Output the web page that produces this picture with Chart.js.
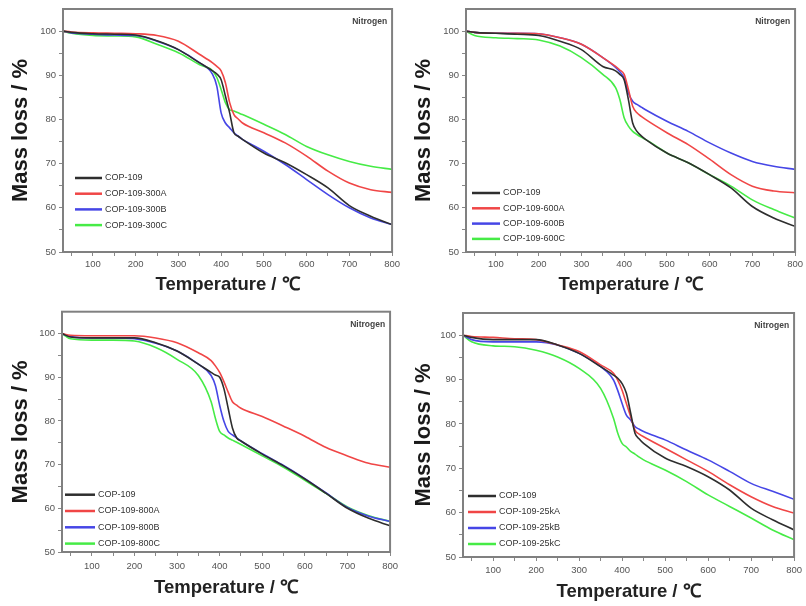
<!DOCTYPE html>
<html>
<head>
<meta charset="utf-8">
<script src="https://cdn.jsdelivr.net/npm/chart.js@4.4.0/dist/chart.umd.min.js"></script>
<style>
  html, body { margin: 0; padding: 0; background: #fff; }
  #wrap { position: relative; width: 806px; height: 606px; overflow: hidden; }
  canvas { position: absolute; }
</style>
</head>
<body>
<div id="wrap">
  <canvas id="c1" width="403" height="303" style="left:0;top:0"></canvas>
  <canvas id="c2" width="403" height="303" style="left:403px;top:0"></canvas>
  <canvas id="c3" width="403" height="303" style="left:0;top:303px"></canvas>
  <canvas id="c4" width="403" height="303" style="left:403px;top:303px"></canvas>
</div>
<script>
// ---------- DATA ----------
const temperatures = [30, 50, 100, 150, 200, 250, 300, 350, 380, 390, 400, 410, 420, 430, 440, 450, 500, 550, 600, 650, 700, 750, 800];

const xMajorTicks = [100, 200, 300, 400, 500, 600, 700, 800];
const xMinorTicks = [50, 150, 250, 350, 450, 550, 650, 750];
const yMajorTicks = [50, 60, 70, 80, 90, 100];
const yMinorTicks = [55, 65, 75, 85, 95];

const seriesNames300 = ['COP-109', 'COP-109-300A', 'COP-109-300B', 'COP-109-300C'];
const seriesNames600 = ['COP-109', 'COP-109-600A', 'COP-109-600B', 'COP-109-600C'];
const seriesNames800 = ['COP-109', 'COP-109-800A', 'COP-109-800B', 'COP-109-800C'];
const seriesNames25k = ['COP-109', 'COP-109-25kA', 'COP-109-25kB', 'COP-109-25kC'];

// Panel 1 (300)
const p1_cop109 = [100, 99.7, 99.4, 99.3, 99.1, 97.8, 95.8, 92.8, 91.0, 90.3, 89.0, 85.3, 81.5, 77.0, 76.2, 75.5, 72.4, 70.2, 67.5, 64.5, 60.5, 58.1, 56.2];
const p1_300A   = [100, 99.8, 99.6, 99.5, 99.4, 99.0, 97.7, 94.7, 92.8, 92.0, 91.0, 88.3, 83.8, 81.1, 80.1, 79.2, 77.0, 74.7, 71.7, 68.3, 65.6, 64.1, 63.5];
const p1_300B   = [100, 99.6, 99.3, 99.1, 99.0, 97.7, 95.8, 92.8, 90.2, 87.5, 81.5, 79.2, 78.1, 77.0, 76.2, 75.5, 72.8, 69.8, 66.4, 63.0, 60.0, 57.7, 56.2];
const p1_300C   = [100, 99.5, 99.0, 98.9, 98.7, 97.0, 95.1, 92.4, 91.0, 89.5, 86.8, 83.8, 82.2, 81.9, 81.5, 81.1, 78.9, 76.6, 73.9, 72.0, 70.5, 69.4, 68.7];

// Panel 2 (600)
const p2_cop109 = [100, 99.7, 99.5, 99.3, 99.0, 97.7, 95.8, 92.0, 91.0, 90.2, 89.0, 84.5, 79.2, 77.3, 76.3, 75.5, 72.4, 70.2, 67.5, 64.5, 60.3, 57.7, 55.8];
const p2_600A   = [100, 99.7, 99.5, 99.5, 99.4, 98.5, 97.0, 94.0, 92.0, 91.2, 90.2, 86.8, 83.0, 81.5, 80.7, 80.0, 77.0, 74.3, 71.0, 67.5, 64.9, 63.8, 63.4];
const p2_600B   = [100, 99.7, 99.5, 99.5, 99.4, 98.5, 97.0, 94.0, 91.8, 90.8, 89.4, 86.0, 84.1, 83.4, 82.8, 82.2, 79.6, 77.3, 74.7, 72.4, 70.5, 69.4, 68.7];
const p2_600C   = [100, 99.0, 98.5, 98.3, 98.0, 96.6, 94.0, 90.2, 87.2, 84.5, 80.4, 78.5, 77.3, 76.6, 76.0, 75.5, 72.4, 70.2, 67.5, 64.9, 61.8, 59.6, 57.7];

// Panel 3 (800)
const p3_cop109 = [100, 99.2, 99.0, 99.0, 99.0, 97.9, 96.0, 93.0, 91.1, 90.5, 90.0, 87.4, 82.9, 78.4, 76.1, 75.4, 72.4, 69.7, 66.7, 63.4, 60.0, 57.7, 56.0];
const p3_800A   = [100, 99.6, 99.5, 99.5, 99.5, 99.0, 97.9, 95.6, 93.8, 92.6, 91.1, 89.0, 86.6, 84.4, 83.6, 82.9, 81.0, 78.8, 76.5, 73.9, 72.0, 70.3, 69.4];
const p3_800B   = [100, 99.3, 99.0, 99.0, 98.8, 97.8, 96.0, 93.0, 90.4, 88.1, 83.6, 79.9, 77.6, 76.8, 76.1, 75.4, 72.5, 69.8, 66.8, 63.5, 60.2, 58.2, 57.0];
const p3_800C   = [100, 98.8, 98.5, 98.5, 98.3, 96.8, 94.1, 90.4, 84.4, 80.6, 77.6, 76.8, 76.1, 75.6, 75.1, 74.6, 72.0, 69.4, 66.4, 63.4, 60.3, 58.3, 57.0];

// Panel 4 (25k)
const p4_cop109 = [100, 99.5, 99.0, 99.0, 99.0, 97.8, 95.9, 92.9, 91.0, 90.3, 89.1, 86.9, 82.4, 77.9, 76.6, 75.6, 72.3, 70.4, 68.1, 65.1, 61.0, 58.4, 56.1];
const p4_25kA   = [100, 99.7, 99.5, 99.2, 99.0, 97.8, 96.3, 93.3, 91.4, 89.8, 87.6, 84.6, 81.6, 78.6, 77.7, 77.1, 74.5, 71.9, 69.3, 66.3, 63.6, 61.4, 59.9];
const p4_25kB   = [100, 99.0, 98.5, 98.5, 98.5, 97.8, 95.9, 92.9, 89.9, 87.5, 84.6, 82.0, 80.9, 79.4, 78.8, 78.3, 76.4, 74.1, 71.9, 69.3, 66.6, 64.8, 63.0];
const p4_25kC   = [100, 98.5, 97.6, 97.4, 96.6, 95.1, 92.5, 88.0, 81.3, 77.9, 75.6, 74.8, 73.8, 73.2, 72.5, 71.9, 69.6, 67.0, 64.0, 61.4, 58.8, 56.1, 53.9];

const seriesColors = ['#2e2e2e', '#f04646', '#4646e6', '#46eb46'];

// ---------- DRAWING ----------
Chart.defaults.font.family = "'Liberation Sans', Arial, sans-serif";

const framePlugin = {
  id: 'frameAndLegend',
  afterDatasetsDraw(chart, args, opts) {
    const { ctx, chartArea: a } = chart;
    ctx.save();
    // frame
    ctx.strokeStyle = '#808080';
    ctx.lineWidth = 2;
    ctx.strokeRect(a.left, a.top, a.right - a.left, a.bottom - a.top);
    // Nitrogen label
    ctx.fillStyle = '#444';
    ctx.font = "bold 8.5px 'Liberation Sans', Arial, sans-serif";
    ctx.textAlign = 'right';
    ctx.textBaseline = 'middle';
    ctx.fillText('Nitrogen', a.right - 5, a.top + 13);
    // inner legend
    ctx.font = "9px 'Liberation Sans', Arial, sans-serif";
    ctx.textAlign = 'left';
    chart.data.datasets.forEach((ds, i) => {
      const y = a.top + opts.legendTop + i * opts.legendGap;
      const x0 = a.left + opts.legendLeft;
      ctx.strokeStyle = ds.borderColor;
      ctx.lineWidth = 2.5;
      ctx.beginPath();
      ctx.moveTo(x0, y);
      ctx.lineTo(x0 + opts.legendLen, y);
      ctx.stroke();
      ctx.fillStyle = '#333';
      ctx.fillText(ds.label, x0 + opts.legendLen + 3, y);
    });
    ctx.restore();
  }
};

function makePanel(id, names, series, L) {
  const ctx = document.getElementById(id).getContext('2d');
  new Chart(ctx, {
    type: 'line',
    data: {
      datasets: names.map((n, i) => ({
        label: n,
        data: temperatures.map((t, j) => ({ x: t, y: series[i][j] })),
        borderColor: seriesColors[i],
        backgroundColor: seriesColors[i],
        borderWidth: 1.6,
        pointRadius: 0,
        cubicInterpolationMode: 'monotone',
        fill: false
      }))
    },
    options: {
      responsive: false,
      animation: false,
      devicePixelRatio: 1,
      layout: { padding: { left: 0, top: L.top, right: L.right, bottom: 0 } },
      plugins: {
        legend: { display: false },
        tooltip: { enabled: false },
        frameAndLegend: { legendTop: L.legendTop, legendGap: L.legendGap, legendLeft: L.legendLeft, legendLen: L.legendLen }
      },
      scales: {
        x: {
          type: 'linear', min: 30, max: 800,
          afterBuildTicks: s => { s.ticks = xMinorTicks.concat(xMajorTicks).sort((a, b) => a - b).map(v => ({ value: v })); },
          ticks: {
            callback: v => xMajorTicks.includes(v) ? String(v) : '',
            font: { size: 9.5 }, color: '#555', padding: L.xTickPad, autoSkip: false, maxRotation: 0
          },
          grid: { display: true, drawOnChartArea: false, drawTicks: true, tickLength: 4, color: '#888' },
          border: { display: false },
          title: { display: true, text: 'Temperature / ℃', font: { size: 18.5, weight: 'bold' }, color: '#222', padding: { top: 0, bottom: L.xTitlePad } },
          afterFit: s => { s.height = L.xHeight; }
        },
        y: {
          type: 'linear', min: 50, max: 105,
          afterBuildTicks: s => { s.ticks = yMinorTicks.concat(yMajorTicks).sort((a, b) => a - b).map(v => ({ value: v })); },
          ticks: {
            callback: v => yMajorTicks.includes(v) ? String(v) : '',
            font: { size: 9.5 }, color: '#555', padding: 3, autoSkip: false
          },
          grid: { display: true, drawOnChartArea: false, drawTicks: true, tickLength: 4, color: '#888' },
          border: { display: false },
          title: { display: true, text: 'Mass loss / %', font: { size: 22, weight: 'bold' }, color: '#1a1a1a', padding: { top: L.yTitlePad, bottom: 0 } },
          afterFit: s => { s.width = L.yWidth; }
        }
      }
    },
    plugins: [framePlugin]
  });
}

makePanel('c1', seriesNames300, [p1_cop109, p1_300A, p1_300B, p1_300C],
  { top: 9, right: 9, yWidth: 63, xHeight: 51, xTickPad: 3, xTitlePad: 7, yTitlePad: 8, legendTop: 169, legendGap: 15.7, legendLeft: 12, legendLen: 27 });
makePanel('c2', seriesNames600, [p2_cop109, p2_600A, p2_600B, p2_600C],
  { top: 9, right: 8, yWidth: 63, xHeight: 51, xTickPad: 3, xTitlePad: 7, yTitlePad: 8, legendTop: 184, legendGap: 15.3, legendLeft: 6, legendLen: 28 });
makePanel('c3', seriesNames800, [p3_cop109, p3_800A, p3_800B, p3_800C],
  { top: 5, right: 10, yWidth: 62, xHeight: 54, xTickPad: 5, xTitlePad: 7, yTitlePad: 8, legendTop: 183, legendGap: 16.3, legendLeft: 3, legendLen: 30 });
makePanel('c4', seriesNames25k, [p4_cop109, p4_25kA, p4_25kB, p4_25kC],
  { top: 10, right: 9, yWidth: 60, xHeight: 49, xTickPad: 4, xTitlePad: 3, yTitlePad: 8, legendTop: 183, legendGap: 16, legendLeft: 5, legendLen: 28 });
</script>
</body>
</html>
